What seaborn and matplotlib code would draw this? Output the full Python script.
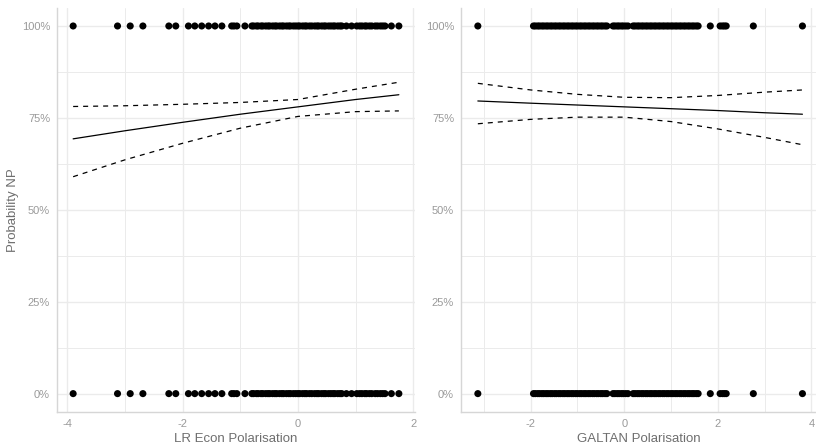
import matplotlib
matplotlib.use("Agg")
import matplotlib.pyplot as plt
import pandas as pd
import seaborn as sns
from matplotlib.ticker import MultipleLocator, PercentFormatter

# Observed predictor values (each value appears with outcome 0 and outcome 1)
econ_x = [-3.90, -3.13, -2.91, -2.69, -2.24, -2.12, -1.90, -1.79, -1.67, -1.55,
          -1.44, -1.32, -1.15, -1.11, -1.06, -0.92, -0.80, -0.77, -0.72, -0.69,
          -0.64, -0.61, -0.56, -0.52, -0.49, -0.44, -0.40, -0.37, -0.32, -0.28,
          -0.25, -0.20, -0.16, -0.13, -0.08, -0.04, 0.00, 0.03, 0.08, 0.12,
          0.15, 0.20, 0.24, 0.29, 0.33, 0.36, 0.41, 0.45, 0.48, 0.53, 0.57,
          0.61, 0.64, 0.69, 0.73, 0.76, 0.84, 0.93, 1.02, 1.07, 1.11, 1.16,
          1.19, 1.24, 1.28, 1.34, 1.38, 1.43, 1.47, 1.51, 1.62, 1.75]
galtan_x = [-3.13, -1.94, -1.90, -1.85, -1.81, -1.76, -1.72, -1.67, -1.63, -1.58,
            -1.54, -1.49, -1.45, -1.40, -1.36, -1.31, -1.27, -1.22, -1.18, -1.13,
            -1.09, -1.04, -1.00, -0.95, -0.91, -0.86, -0.82, -0.77, -0.73, -0.68,
            -0.64, -0.59, -0.55, -0.50, -0.46, -0.41, -0.37, -0.24, -0.20, -0.15,
            -0.11, -0.06, -0.02, 0.03, 0.08, 0.19, 0.23, 0.28, 0.32, 0.37, 0.41,
            0.46, 0.50, 0.55, 0.59, 0.64, 0.68, 0.73, 0.77, 0.82, 0.86, 0.91,
            0.95, 1.00, 1.04, 1.09, 1.13, 1.18, 1.22, 1.27, 1.31, 1.36, 1.40,
            1.45, 1.49, 1.54, 1.58, 1.84, 2.05, 2.10, 2.14, 2.18, 2.76, 3.81]
outcomes = [0, 1]

# Predicted probability of NP with 95% interval
econ_grid = [-3.90, -3.00, -2.00, -1.00, 0.00, 1.00, 1.75]
econ_fit = [0.693, 0.715, 0.738, 0.760, 0.780, 0.800, 0.813]
econ_upper = [0.781, 0.783, 0.787, 0.792, 0.800, 0.828, 0.847]
econ_lower = [0.590, 0.636, 0.681, 0.722, 0.754, 0.767, 0.769]

galtan_grid = [-3.13, -2.00, -1.00, 0.00, 1.00, 2.00, 3.00, 3.81]
galtan_fit = [0.796, 0.790, 0.785, 0.780, 0.775, 0.770, 0.764, 0.760]
galtan_upper = [0.844, 0.826, 0.814, 0.806, 0.805, 0.811, 0.820, 0.826]
galtan_lower = [0.734, 0.746, 0.752, 0.752, 0.740, 0.720, 0.697, 0.677]

y_ticks = [0, 0.25, 0.5, 0.75, 1.0]

sns.set_theme(style="white")
plt.rcParams["font.family"] = ["Liberation Sans", "DejaVu Sans"]
plt.rcParams["axes.unicode_minus"] = False

W, H = 816, 447
fig = plt.figure(figsize=(W / 100, H / 100), dpi=100)
fig.patch.set_facecolor("white")


def fx(px):
    return px / W


bottom = (H - 412) / H
height = (412 - 7.6) / H
ax1 = fig.add_axes([fx(57), bottom, fx(415 - 57), height])
ax2 = fig.add_axes([fx(461), bottom, fx(816 - 461), height])

grid_c = "#ebebeb"
tick_c = "#9a9a9a"
title_c = "#6e6e6e"


def panel(ax, xs, grid, fit, lo, hi, xlim, xticks, xlabel, ylabel):
    pts = pd.DataFrame([(x, o) for o in outcomes for x in xs], columns=["x", "y"])
    curve = pd.DataFrame({"x": grid, "fit": fit, "lower": lo, "upper": hi})

    ax.set_axisbelow(True)
    ax.xaxis.set_major_locator(MultipleLocator(2))
    ax.xaxis.set_minor_locator(MultipleLocator(1))
    ax.yaxis.set_major_locator(MultipleLocator(0.25))
    ax.yaxis.set_minor_locator(MultipleLocator(0.125))
    ax.grid(which="major", color=grid_c, lw=1.0)
    ax.grid(which="minor", color=grid_c, lw=0.7)

    sns.scatterplot(data=pts, x="x", y="y", ax=ax, color="black", s=26,
                    edgecolor="none", zorder=3)
    sns.lineplot(data=curve, x="x", y="fit", ax=ax, color="black", lw=0.9,
                 zorder=4)
    for col in ("lower", "upper"):
        sns.lineplot(data=curve, x="x", y=col, ax=ax, color="black", lw=0.9,
                     dashes=(4, 4), zorder=4)

    ax.set_xlim(*xlim)
    ax.set_ylim(-0.05, 1.05)
    ax.set_xticks(xticks)
    ax.set_yticks(y_ticks)
    ax.yaxis.set_major_formatter(PercentFormatter(1.0, decimals=0))
    ax.tick_params(axis="both", which="both", length=0, pad=5,
                   labelsize=8, labelcolor=tick_c)
    ax.set_xlabel(xlabel, fontsize=9.5, color=title_c, labelpad=3)
    ax.set_ylabel(ylabel, fontsize=9.5, color=title_c, labelpad=2)
    for side in ("top", "right"):
        ax.spines[side].set_visible(False)
    for side in ("left", "bottom"):
        ax.spines[side].set_visible(True)
        ax.spines[side].set_color("#d6d6d6")
        ax.spines[side].set_linewidth(1.0)


panel(ax1, econ_x, econ_grid, econ_fit, econ_lower, econ_upper,
      (-4.18, 2.03), [-4, -2, 0, 2], "LR Econ Polarisation", "Probability NP")
panel(ax2, galtan_x, galtan_grid, galtan_fit, galtan_lower, galtan_upper,
      (-3.49, 4.10), [-2, 0, 2, 4], "GALTAN Polarisation", "")

fig.savefig("out.png", dpi=100, facecolor="white")
